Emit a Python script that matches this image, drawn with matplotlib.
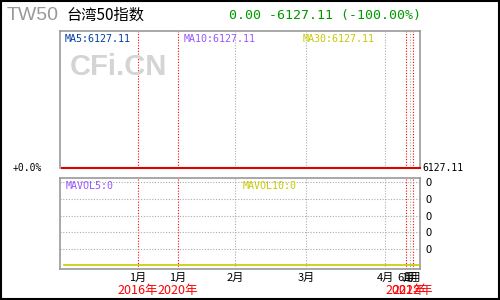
import matplotlib
matplotlib.use("Agg")
import matplotlib.pyplot as plt
from matplotlib.patches import Rectangle
import matplotlib.transforms as mtransforms

plt.rcParams['font.family'] = ['Noto Sans CJK SC', 'DejaVu Sans']

# data (trading-day index axis, 0..100)
price_x = [0.5, 100]
price = [6127.11, 6127.11]
vol_x = [1.1, 100]
mavol10 = [0, 0]
vol_grid = [1, 2, 3, 4, 5]
vol_labels = ['0', '0', '0', '0', '0']

tick_pos = [21.7, 32.8, 48.6, 68.3, 90.3, 96.1, 97.2, 98.1]
tick_labels = ['1月', '1月', '2月', '3月', '4月', '6月', '1月', '1月']
year_start = [True, True, False, False, False, True, False, True]
year_labels = {21.7: '2016年', 32.8: '2020年', 96.1: '2021年', 98.1: '2022年'}

title_code = 'TW50'
title_name = '台湾50指数'
change_text = '0.00 -6127.11 (-100.00%)'
ma_labels = [('MA5:6127.11', '#003f9f'), ('MA10:6127.11', '#9955ff'), ('MA30:6127.11', '#c8c800')]
mavol_labels = [('MAVOL5:0', '#9955ff'), ('MAVOL10:0', '#c8c800')]

W, H = 500, 300
fig = plt.figure(figsize=(5, 3), dpi=100)

def px(x, y):
    return x / W, 1 - y / H

mono = ['DejaVu Sans Mono', 'Noto Sans CJK SC']

# axes placed in pixels
ax1 = fig.add_axes([60 / W, 1 - 168 / H, 360 / W, 137 / H])
ax2 = fig.add_axes([60 / W, 1 - 269 / H, 360 / W, 91 / H])

for ax in (ax1, ax2):
    ax.set_xlim(0, 100)
    for s in ax.spines.values():
        s.set_color('#999999')
        s.set_linewidth(1.2)
    for p, ys in zip(tick_pos, year_start):
        ax.axvline(p, color='#ff0000' if ys else '#aaaaaa', lw=0.8,
                   ls=(0, (1, 1.5)), zorder=1)

# price panel
ax1.set_ylim(price[0], price[0] * 1.1)
ax1.plot(price_x, price, color='#dd0000', lw=1.5, clip_on=False, zorder=3)
ax1.spines['bottom'].set_visible(False)
ax1.set_xticks([])
ax1.set_yticks([])
tr1 = mtransforms.blended_transform_factory(fig.transFigure, ax1.transData)
fig.text(42 / W, price[0], '+0.0%', transform=tr1, ha='right', va='center',
         fontsize=7, family=mono)
fig.text(422 / W, price[0], f'{price[-1]:.2f}', transform=tr1, ha='left', va='center',
         fontsize=7, family=mono)

# volume panel
ax2.set_ylim(-0.22, 5.26)
ax2.plot(vol_x, mavol10, color='#c8c800', lw=1.2, zorder=3)
for g in vol_grid:
    ax2.axhline(g, color='#aaaaaa', lw=0.8, ls=(0, (1, 1.5)), zorder=1)
ax2.yaxis.tick_right()
ax2.set_yticks(vol_grid)
ax2.set_yticklabels(vol_labels, fontsize=8)
ax2.tick_params(axis='y', length=0, pad=4)
ax2.set_xticks(tick_pos)
ax2.set_xticklabels(tick_labels, fontsize=8)
ax2.tick_params(axis='x', length=0, pad=3)
trx = mtransforms.blended_transform_factory(ax2.transData, fig.transFigure)
for p, lab in year_labels.items():
    fig.text(p, 1 - 290.5 / H, lab, transform=trx, ha='center', va='center',
             fontsize=9, color='#ff0000')

# header
fig.text(*px(7, 16), title_code, fontsize=14, color='#999999',
         family='Liberation Sans', ha='left', va='center')
fig.text(*px(66, 15), title_name, fontsize=11, color='black', ha='left', va='center')
fig.text(*px(229, 15), change_text, fontsize=9.5, color='#009900',
         family=mono, ha='left', va='center')

# watermark
fig.text(*px(70, 67), 'CFi.CN', fontsize=21, color='#d4d4d4', weight='bold',
         family='Liberation Sans', ha='left', va='center', zorder=0)

for (t, c), x in zip(ma_labels, [65, 184, 303]):
    fig.text(*px(x, 39), t, fontsize=7.2, color=c, family=mono, ha='left', va='center')
for (t, c), x in zip(mavol_labels, [66, 243]):
    fig.text(*px(x, 186), t, fontsize=7.2, color=c, family=mono, ha='left', va='center')

# outer frame
fig.patches.append(Rectangle((0.001, 0.002), 0.996, 0.996, transform=fig.transFigure,
                             fill=False, edgecolor='black', lw=1.5))

fig.savefig('out.png', dpi=100)
